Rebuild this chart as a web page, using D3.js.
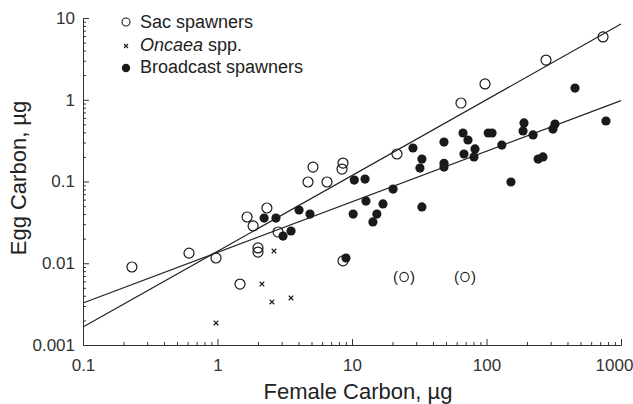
<!DOCTYPE html>
<html>
<head>
<meta charset="utf-8">
<script src="https://cdn.jsdelivr.net/npm/d3@7"></script>
<style>
  body { margin: 0; background: #fff; }
  svg { display: block; font-family: 'Liberation Sans', Arial, Helvetica, sans-serif; }
  .axis path, .axis line { stroke: #333; stroke-width: 1; }
  .axis text { fill: #333; font-size: 17px; }
</style>
</head>
<body>
<svg class="chart" width="633" height="404"></svg>
<script>
'use strict';

// female carbon (ug) / egg carbon (ug)
const sacX = [0.231, 0.614, 0.975, 1.47, 1.66, 1.84, 2.33, 2.0, 2.0, 2.82, 4.71, 5.13, 6.52, 8.57, 8.43, 8.57, 21.6, 64.6, 97.5, 277, 735];
const sacY = [0.009, 0.0133, 0.0116, 0.00557, 0.0368, 0.0286, 0.0474, 0.0154, 0.0137, 0.0241, 0.0986, 0.15, 0.0986, 0.168, 0.142, 0.0107, 0.217, 0.912, 1.56, 3.06, 5.86];

// bracketed sac spawner points
const sacParenX = [24.4, 69.2];
const sacParenY = [0.0068, 0.0068];

const oncaeaX = [2.63, 2.14, 2.54, 3.52, 0.975];
const oncaeaY = [0.0141, 0.00557, 0.00336, 0.00376, 0.00186];

const broadX = [2.22, 2.72, 3.07, 3.52, 4.04, 4.87, 10.2, 10.4, 12.5, 12.7, 14.3, 15.3, 17.0, 20.2, 28.4, 33.1, 32.0, 33.1,
  48.3, 48.3, 48.3, 66.9, 72.8, 68.0, 82.1, 80.7, 103, 110, 130, 152, 190, 187, 222, 242, 263, 312, 323, 455, 773, 9.02];
const broadY = [0.0357, 0.0357, 0.0215, 0.0248, 0.0448, 0.04, 0.04, 0.104, 0.107, 0.0576, 0.032, 0.04, 0.0531, 0.0809, 0.257, 0.188, 0.146, 0.0488,
  0.304, 0.167, 0.15, 0.392, 0.322, 0.217, 0.25, 0.2, 0.392, 0.392, 0.279, 0.0986, 0.52, 0.415, 0.371, 0.188, 0.2, 0.438, 0.505, 1.39, 0.55, 0.0116];

// power fits: egg = a * female^b
const fitNames = ['sac', 'broadcast'];
const fitA = [0.0140, 0.01357];
const fitB = [0.927, 0.619];

const xTicks = [0.1, 1, 10, 100, 1000];
const xTickLabels = ['0.1', '1', '10', '100', '1000'];
const yTicks = [0.001, 0.01, 0.1, 1, 10];
const yTickLabels = ['0.001', '0.01', '0.1', '1', '10'];

const legendLabels = ['Sac spawners', 'Oncaea spp.', 'Broadcast spawners'];

const ink = '#1a1a1a';

const svg = d3.select('.chart');

const x = d3.scaleLog().domain([0.1, 1000]).range([83, 621]);
const y = d3.scaleLog().domain([0.001, 10]).range([345, 18]);

const minors = (ticks) => {
  let out = [];
  ticks.slice(0, -1).forEach(t => {
    for (let k = 2; k < 10; k++) out.push(t * k);
  });
  return out;
};

// axes, ticks pointing inward
svg.append('g')
  .attr('class', 'axis')
  .attr('transform', `translate(0, ${y(0.001)})`)
  .call(d3.axisBottom(x).tickValues(minors(xTicks)).tickSize(-3).tickSizeOuter(0).tickFormat(''));

const xAxis = svg.append('g')
  .attr('class', 'axis')
  .attr('transform', `translate(0, ${y(0.001)})`)
  .call(d3.axisBottom(x).tickValues(xTicks).tickSize(-6).tickSizeOuter(0).tickPadding(14)
    .tickFormat((d, i) => xTickLabels[i]));

// last label sits against the right edge
xAxis.selectAll('.tick text').filter(d => d === 1000).attr('dx', -7);

svg.append('g')
  .attr('class', 'axis')
  .attr('transform', `translate(${x(0.1)}, 0)`)
  .call(d3.axisLeft(y).tickValues(minors(yTicks)).tickSize(-3).tickSizeOuter(0).tickFormat(''));

svg.append('g')
  .attr('class', 'axis')
  .attr('transform', `translate(${x(0.1)}, 0)`)
  .call(d3.axisLeft(y).tickValues(yTicks).tickSize(-6).tickSizeOuter(0).tickPadding(8)
    .tickFormat((d, i) => yTickLabels[i]));

// axis titles
svg.append('text')
  .attr('x', 358)
  .attr('y', 399)
  .attr('text-anchor', 'middle')
  .attr('fill', '#222')
  .style('font-size', '22px')
  .text('Female Carbon, µg');

svg.append('text')
  .attr('transform', 'translate(26, 178) rotate(-90)')
  .attr('text-anchor', 'middle')
  .attr('fill', '#222')
  .style('font-size', '22px')
  .text('Egg Carbon, µg');

// regression lines
const line = d3.line().x(d => x(d[0])).y(d => y(d[1]));

svg.selectAll('.fit')
  .data(fitNames.map((n, i) => [0.1, 1000].map(v => [v, fitA[i] * Math.pow(v, fitB[i])])))
  .enter()
  .append('path')
  .attr('class', 'fit')
  .attr('d', line)
  .attr('fill', 'none')
  .attr('stroke', '#222')
  .attr('stroke-width', 1.2);

// broadcast spawners
svg.append('g')
  .selectAll('circle')
  .data(broadX.map((v, i) => [v, broadY[i]]))
  .enter()
  .append('circle')
  .attr('cx', d => x(d[0]))
  .attr('cy', d => y(d[1]))
  .attr('r', 4.6)
  .attr('fill', ink);

// sac spawners
svg.append('g')
  .selectAll('circle')
  .data(sacX.map((v, i) => [v, sacY[i]]))
  .enter()
  .append('circle')
  .attr('cx', d => x(d[0]))
  .attr('cy', d => y(d[1]))
  .attr('r', 5)
  .attr('fill', 'none')
  .attr('stroke', ink)
  .attr('stroke-width', 1.2);

const paren = svg.append('g')
  .selectAll('g')
  .data(sacParenX.map((v, i) => [v, sacParenY[i]]))
  .enter()
  .append('g')
  .attr('transform', d => `translate(${x(d[0])}, ${y(d[1])})`);

paren.append('ellipse')
  .attr('rx', 4.2)
  .attr('ry', 4.6)
  .attr('fill', 'none')
  .attr('stroke', ink)
  .attr('stroke-width', 1.1);

paren.selectAll('text')
  .data(['(', ')'])
  .enter()
  .append('text')
  .attr('x', (d, i) => (i ? 8.5 : -8.5))
  .attr('text-anchor', 'middle')
  .attr('dy', '0.33em')
  .attr('fill', ink)
  .style('font-size', '15px')
  .text(d => d);

// Oncaea spp.
const cross = 'M-2.3,-2.3L2.3,2.3M2.3,-2.3L-2.3,2.3';

svg.append('g')
  .selectAll('path')
  .data(oncaeaX.map((v, i) => [v, oncaeaY[i]]))
  .enter()
  .append('path')
  .attr('transform', d => `translate(${x(d[0])}, ${y(d[1])})`)
  .attr('d', cross)
  .attr('stroke', ink)
  .attr('stroke-width', 1.2);

// legend
const legend = svg.append('g').attr('transform', 'translate(126, 0)');

legend.append('circle')
  .attr('cx', 0).attr('cy', 22).attr('r', 4)
  .attr('fill', 'none').attr('stroke', ink).attr('stroke-width', 1.1);

legend.append('path')
  .attr('transform', 'translate(0, 46)')
  .attr('d', 'M-2,-2L2,2M2,-2L-2,2')
  .attr('stroke', ink).attr('stroke-width', 1.1);

legend.append('circle')
  .attr('cx', 0).attr('cy', 68).attr('r', 4.2)
  .attr('fill', ink);

const ltext = legend.selectAll('text')
  .data(legendLabels)
  .enter()
  .append('text')
  .attr('x', 14)
  .attr('y', (d, i) => 28 + i * 22.7)
  .attr('fill', '#222')
  .style('font-size', '18px');

ltext.filter((d, i) => i !== 1).text(d => d);

const onc = ltext.filter((d, i) => i === 1);
onc.append('tspan').style('font-style', 'italic').text(legendLabels[1].split(' ')[0]);
onc.append('tspan').text(' ' + legendLabels[1].split(' ')[1]);
</script>
</body>
</html>
